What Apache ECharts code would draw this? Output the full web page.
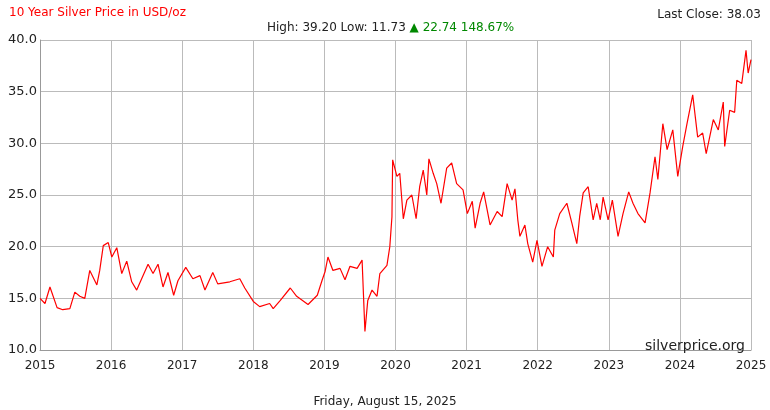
<!DOCTYPE html>
<html><head><meta charset="utf-8">
<script src="https://cdn.jsdelivr.net/npm/echarts@6/dist/echarts.min.js"></script>
<style>html,body{margin:0;padding:0;background:#fff}#c{width:770px;height:410px}</style>
</head><body><div id="c"></div>
<script>
// decimal year positions and silver price (USD/oz)
var years = [2015.00,2015.07,2015.14,2015.24,2015.32,2015.42,2015.49,2015.56,2015.63,2015.70,2015.80,2015.84,2015.89,2015.96,
 2016.01,2016.08,2016.15,2016.22,2016.29,2016.36,2016.45,2016.52,2016.59,2016.66,2016.73,2016.80,2016.88,2016.94,
 2017.05,2017.15,2017.25,2017.32,2017.43,2017.50,2017.67,2017.81,2017.88,2018.00,2018.09,2018.23,2018.28,2018.38,
 2018.52,2018.61,2018.77,2018.90,2018.97,2019.01,2019.05,2019.12,2019.22,2019.29,2019.36,2019.46,2019.53,2019.57,
 2019.61,2019.67,2019.74,2019.78,2019.88,2019.92,2019.95,2019.96,2020.02,2020.06,2020.11,2020.16,2020.23,2020.29,
 2020.34,2020.39,2020.44,2020.47,2020.53,2020.58,2020.64,2020.72,2020.79,2020.86,2020.95,2021.01,2021.08,2021.12,
 2021.19,2021.24,2021.33,2021.43,2021.50,2021.57,2021.64,2021.68,2021.72,2021.75,2021.82,2021.86,2021.93,2021.99,
 2022.06,2022.14,2022.22,2022.24,2022.31,2022.41,2022.48,2022.55,2022.59,2022.64,2022.71,2022.78,2022.83,2022.88,
 2022.92,2022.99,2023.05,2023.13,2023.20,2023.28,2023.34,2023.41,2023.51,2023.58,2023.65,2023.69,2023.76,2023.82,
 2023.90,2023.97,2024.04,2024.10,2024.18,2024.25,2024.32,2024.37,2024.47,2024.54,2024.61,2024.63,2024.70,2024.77,
 2024.80,2024.87,2024.93,2024.96,2025.00];
var prices = [15.0,14.5,16.1,14.1,13.9,14.0,15.6,15.2,15.0,17.7,16.3,17.7,20.1,20.4,
 19.0,19.9,17.4,18.6,16.6,15.8,17.2,18.3,17.4,18.3,16.1,17.5,15.3,16.7,
 18.0,16.9,17.2,15.8,17.5,16.4,16.6,16.9,16.0,14.7,14.2,14.5,14.0,14.8,
 16.0,15.2,14.4,15.3,16.8,17.6,19.0,17.7,17.9,16.8,18.1,17.9,18.7,11.8,
 14.8,15.8,15.2,17.4,18.2,20.0,22.9,28.4,26.8,27.1,22.7,24.5,25.0,22.7,
 25.8,27.4,25.0,28.5,27.1,26.1,24.2,27.6,28.1,26.1,25.5,23.2,24.4,21.8,
 24.2,25.3,22.1,23.4,22.9,26.1,24.5,25.6,22.6,21.0,22.1,20.3,18.5,20.6,
 18.1,20.0,19.0,21.6,23.2,24.2,22.3,20.3,22.9,25.2,25.8,22.6,24.2,22.6,
 24.8,22.6,24.5,21.0,23.2,25.3,24.2,23.2,22.3,25.2,28.7,26.5,31.9,29.4,
 31.3,26.8,29.7,31.9,34.7,30.6,31.0,29.0,32.3,31.3,34.0,29.7,33.2,33.0,
 36.1,35.8,39.0,36.8,38.1];
var yearTicks = [2015,2016,2017,2018,2019,2020,2021,2022,2023,2024,2025];

var points = years.map(function (y, i) { return [y, prices[i]]; });
var font = 'DejaVu Sans';
var chart = echarts.init(document.getElementById('c'));
chart.setOption({
  animation: false,
  textStyle: { fontFamily: font },
  title: [
    { text: '10 Year Silver Price in USD/oz', left: 4, top: 2,
      textStyle: { color: '#ff0000', fontSize: 12, fontWeight: 'normal', fontFamily: font } },
    { text: 'Last Close: 38.03', right: 4, top: 4,
      textStyle: { color: '#222', fontSize: 12, fontWeight: 'normal', fontFamily: font } },
    { text: 'High: 39.20 Low: 11.73 {g|▲ 22.74 148.67%}', left: 262, top: 17,
      textStyle: { color: '#222', fontSize: 12, fontWeight: 'normal', fontFamily: font,
        rich: { g: { color: '#008800', fontSize: 12, fontFamily: font } } } },
    { text: 'Friday, August 15, 2025', left: 'center', top: 391,
      textStyle: { color: '#222', fontSize: 12, fontWeight: 'normal', fontFamily: font } },
    { text: 'silverprice.org', right: 20, top: 334,
      textStyle: { color: '#222', fontSize: 14, fontWeight: 'normal', fontFamily: font } }
  ],
  grid: { left: 40, right: 19, top: 40, bottom: 60 },
  xAxis: {
    type: 'value', min: 2015, max: 2025, interval: 1,
    axisLine: { lineStyle: { color: '#999' } },
    axisTick: { show: false },
    axisLabel: { color: '#222', fontSize: 12, margin: 10, formatter: function (v) { return yearTicks.indexOf(v) >= 0 ? String(v) : ''; } },
    splitLine: { lineStyle: { color: '#bbb' } }
  },
  yAxis: {
    type: 'value', min: 10, max: 40, interval: 5,
    axisLine: { show: true, lineStyle: { color: '#999' } },
    axisTick: { show: false },
    axisLabel: { color: '#222', fontSize: 13, margin: 3, formatter: function (v) { return v.toFixed(1); } },
    splitLine: { lineStyle: { color: '#bbb' } }
  },
  series: [{
    type: 'line', data: points, symbol: 'none',
    lineStyle: { color: '#ff0000', width: 1.2 }
  }]
});
</script></body></html>
